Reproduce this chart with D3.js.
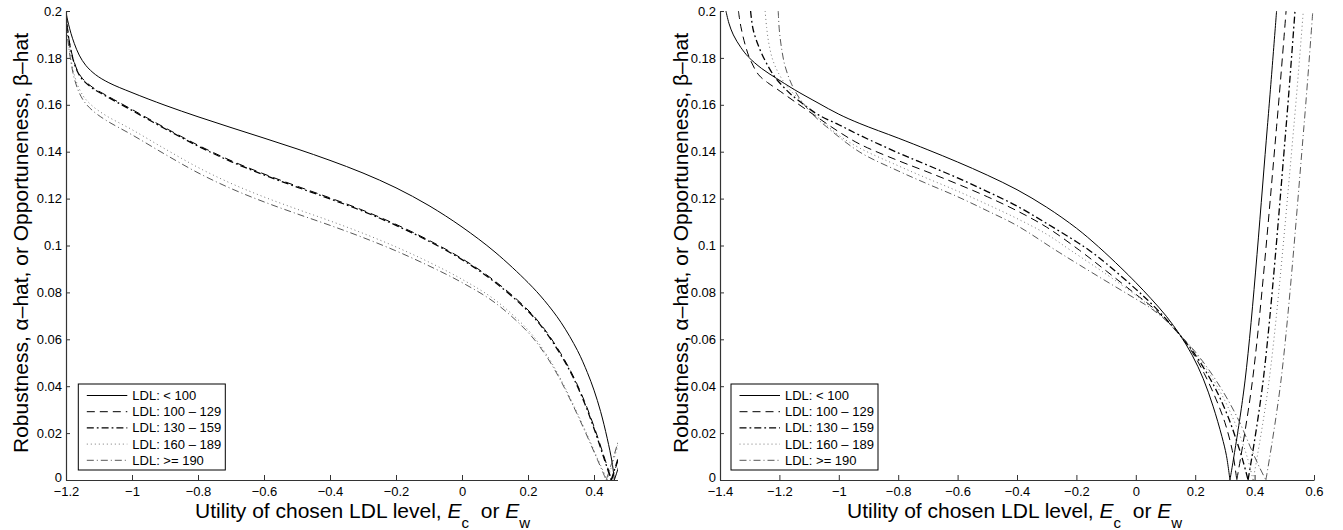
<!DOCTYPE html>
<html>
<head>
<meta charset="utf-8">
<script src="https://cdn.jsdelivr.net/npm/d3@7"></script>
<style>
  body { margin: 0; background: #fff; }
  svg { display: block; }
  text { font-family: "Liberation Sans", Arial, Helvetica, sans-serif; fill: #000; }
</style>
</head>
<body>
<svg id="chart" width="1343" height="530"></svg>
<script>
// ---- labels and ticks ----
const seriesNames = ["LDL: < 100", "LDL: 100 \u2013 129", "LDL: 130 \u2013 159", "LDL: 160 \u2013 189", "LDL: >= 190"];
const yTicks = [0, 0.02, 0.04, 0.06, 0.08, 0.1, 0.12, 0.14, 0.16, 0.18, 0.2];
const leftXTicks = [-1.2, -1, -0.8, -0.6, -0.4, -0.2, 0, 0.2, 0.4];
const rightXTicks = [-1.4, -1.2, -1, -0.8, -0.6, -0.4, -0.2, 0, 0.2, 0.4, 0.6];
const yLabel = "Robustness, \u03b1\u2013hat, or Opportuneness, \u03b2\u2013hat";

// ---- left figure: robustness curves [utility, alpha-hat] ----
const leftLt100 = [[-1.2,0.2],[-1.197,0.1972],[-1.192,0.1942],[-1.185,0.1905],[-1.175,0.1862],[-1.16,0.1812],[-1.14,0.1768],[-1.11,0.1728],[-1.07,0.1694],[-1.0,0.1652],[-0.9,0.1598],[-0.8,0.1549],[-0.7,0.1503],[-0.6,0.1458],[-0.5,0.1412],[-0.4,0.1363],[-0.3,0.1309],[-0.2,0.1246],[-0.1,0.117],[0,0.1079],[0.1,0.0972],[0.2,0.0842],[0.25,0.0765],[0.3,0.0672],[0.35,0.0552],[0.38,0.0458],[0.4,0.0383],[0.42,0.0292],[0.44,0.0178],[0.455,0.0074],[0.4616,0]];
const left100to129 = [[-1.2,0.2],[-1.195,0.192],[-1.188,0.1855],[-1.178,0.1795],[-1.165,0.1745],[-1.15,0.1712],[-1.12,0.1675],[-1.08,0.1642],[-1.0,0.158],[-0.9,0.1502],[-0.8,0.1428],[-0.7,0.1362],[-0.6,0.1305],[-0.5,0.1253],[-0.4,0.1203],[-0.3,0.115],[-0.2,0.109],[-0.1,0.1022],[0,0.0944],[0.1,0.0848],[0.2,0.0725],[0.25,0.0643],[0.3,0.0538],[0.336,0.0446],[0.37,0.034],[0.4,0.0228],[0.43,0.0102],[0.4535,0]];
const left130to159 = [[-1.2,0.2],[-1.195,0.1917],[-1.188,0.1851],[-1.178,0.1791],[-1.165,0.1741],[-1.15,0.1708],[-1.12,0.1671],[-1.08,0.1638],[-1.0,0.1576],[-0.9,0.1498],[-0.8,0.1424],[-0.7,0.1358],[-0.6,0.1301],[-0.5,0.1249],[-0.4,0.1199],[-0.3,0.1146],[-0.2,0.1086],[-0.1,0.1018],[0,0.094],[0.1,0.0843],[0.2,0.072],[0.25,0.0638],[0.3,0.0532],[0.336,0.044],[0.37,0.0333],[0.4,0.022],[0.43,0.0094],[0.452,0]];
const left160to189 = [[-1.2,0.2],[-1.197,0.1925],[-1.192,0.1862],[-1.185,0.1795],[-1.175,0.1728],[-1.162,0.1675],[-1.145,0.1632],[-1.12,0.1595],[-1.08,0.1555],[-1.0,0.1494],[-0.9,0.1412],[-0.8,0.1333],[-0.7,0.1265],[-0.6,0.1207],[-0.5,0.1155],[-0.4,0.1105],[-0.3,0.1052],[-0.2,0.0994],[-0.1,0.0929],[0,0.0856],[0.1,0.0768],[0.2,0.064],[0.25,0.0548],[0.291,0.0452],[0.33,0.0343],[0.37,0.0222],[0.41,0.0094],[0.44,0]];
const leftGe190 = [[-1.2,0.2],[-1.197,0.1915],[-1.192,0.185],[-1.185,0.1782],[-1.175,0.1713],[-1.162,0.1658],[-1.145,0.1614],[-1.12,0.1576],[-1.08,0.1535],[-1.0,0.1472],[-0.9,0.1389],[-0.8,0.131],[-0.7,0.1243],[-0.6,0.1186],[-0.5,0.1135],[-0.4,0.1086],[-0.3,0.1034],[-0.2,0.0977],[-0.1,0.0913],[0,0.0842],[0.1,0.0756],[0.2,0.063],[0.25,0.054],[0.291,0.0445],[0.33,0.0337],[0.37,0.0216],[0.41,0.0088],[0.437,0]];

// ---- left figure: opportuneness branches [utility, beta-hat] ----
const leftOppLt100 = [[0.4616,0],[0.5216,0.03],[0.6016,0.12],[0.6416,0.2]];
const leftOpp100to129 = [[0.4535,0],[0.5135,0.03],[0.5935,0.12],[0.6335,0.2]];
const leftOpp130to159 = [[0.452,0],[0.512,0.03],[0.592,0.12],[0.632,0.2]];
const leftOpp160to189 = [[0.44,0],[0.5,0.03],[0.58,0.12],[0.62,0.2]];
const leftOppGe190 = [[0.437,0],[0.497,0.03],[0.577,0.12],[0.617,0.2]];

// ---- right figure: robustness curves ----
const rightLt100 = [[-1.38,0.2],[-1.37,0.1948],[-1.355,0.1898],[-1.33,0.1845],[-1.305,0.1805],[-1.26,0.1755],[-1.209,0.1712],[-1.15,0.1665],[-1.07,0.1608],[-1.0,0.156],[-0.929,0.152],[-0.8,0.1458],[-0.7,0.1408],[-0.6,0.1356],[-0.5,0.13],[-0.4,0.1238],[-0.3,0.1163],[-0.2,0.1074],[-0.126,0.0995],[-0.05,0.0905],[0,0.0842],[0.05,0.0775],[0.103,0.0698],[0.149,0.0618],[0.19,0.0532],[0.227,0.0432],[0.26,0.0315],[0.29,0.0185],[0.305,0.0105],[0.317,0]];
const right100to129 = [[-1.338,0.2],[-1.33,0.1935],[-1.315,0.1855],[-1.299,0.1795],[-1.27,0.1728],[-1.24,0.1695],[-1.209,0.1668],[-1.15,0.1615],[-1.07,0.1545],[-1.0,0.1485],[-0.929,0.1432],[-0.8,0.1362],[-0.7,0.1313],[-0.6,0.1262],[-0.5,0.1208],[-0.4,0.1148],[-0.3,0.1078],[-0.19,0.098],[-0.1,0.0892],[0,0.0792],[0.05,0.0743],[0.1,0.0685],[0.149,0.0618],[0.19,0.0545],[0.23,0.0455],[0.27,0.0345],[0.3,0.0245],[0.325,0.0125],[0.34,0]];
const right130to159 = [[-1.297,0.2],[-1.288,0.1919],[-1.265,0.1834],[-1.237,0.1762],[-1.215,0.1718],[-1.187,0.1677],[-1.159,0.1642],[-1.12,0.1603],[-1.07,0.1558],[-1.0,0.1515],[-0.929,0.147],[-0.8,0.1395],[-0.7,0.1342],[-0.6,0.1288],[-0.5,0.123],[-0.4,0.1168],[-0.3,0.1094],[-0.2,0.1016],[-0.155,0.0978],[-0.1,0.0924],[0,0.0814],[0.05,0.0755],[0.1,0.0689],[0.149,0.0618],[0.19,0.0552],[0.23,0.0475],[0.27,0.0385],[0.31,0.0272],[0.34,0.0165],[0.36,0.0085],[0.378,0]];
const right160to189 = [[-1.248,0.2],[-1.243,0.193],[-1.235,0.1858],[-1.222,0.179],[-1.2,0.1728],[-1.17,0.1672],[-1.12,0.1608],[-1.06,0.1535],[-1.0,0.147],[-0.929,0.1415],[-0.8,0.134],[-0.7,0.1285],[-0.6,0.1232],[-0.5,0.1175],[-0.4,0.1115],[-0.3,0.1048],[-0.22,0.098],[-0.1,0.0878],[0,0.0788],[0.05,0.0738],[0.1,0.0683],[0.149,0.0618],[0.19,0.0558],[0.23,0.0488],[0.27,0.0408],[0.31,0.0312],[0.35,0.0192],[0.375,0.0098],[0.395,0]];
const rightGe190 = [[-1.204,0.2],[-1.2,0.1915],[-1.192,0.1835],[-1.181,0.1765],[-1.159,0.1688],[-1.131,0.1625],[-1.09,0.1562],[-1.04,0.1505],[-0.929,0.1398],[-0.8,0.1318],[-0.7,0.1262],[-0.6,0.1208],[-0.5,0.1148],[-0.4,0.1085],[-0.27,0.098],[-0.2,0.0925],[-0.1,0.0848],[0,0.0772],[0.05,0.0733],[0.1,0.0682],[0.149,0.0618],[0.19,0.0562],[0.23,0.0498],[0.27,0.0425],[0.31,0.0342],[0.35,0.0245],[0.39,0.0128],[0.415,0.0058],[0.438,0]];

// ---- right figure: opportuneness branches ----
const rightOppLt100 = [[0.317,0],[0.368,0.0426],[0.443,0.1506],[0.474,0.2]];
const rightOpp100to129 = [[0.34,0],[0.393,0.0426],[0.474,0.1506],[0.506,0.2]];
const rightOpp130to159 = [[0.378,0],[0.429,0.0426],[0.506,0.1506],[0.536,0.2]];
const rightOpp160to189 = [[0.395,0],[0.449,0.0426],[0.532,0.1506],[0.564,0.2]];
const rightOppGe190 = [[0.438,0],[0.489,0.0426],[0.566,0.1506],[0.596,0.2]];

// ---- line styles, in series order ----
const lineStyles = [
  { color: "#000", width: 1.0, dash: null },
  { color: "#000", width: 1.0, dash: "8,5" },
  { color: "#000", width: 1.3, dash: "7,3,1.8,3" },
  { color: "#777", width: 1.0, dash: "1,3" },
  { color: "#444", width: 0.9, dash: "7,3,1,3" }
];

const svg = d3.select("#chart");
svg.append("rect").attr("width", 1343).attr("height", 530).attr("fill", "#fff");

const fmt = v => String(+v.toFixed(2)).replace("-", "\u2212");

function drawFigure(cfg) {
  const x = d3.scaleLinear().domain(cfg.xDomain).range(cfg.xRange);
  const y = d3.scaleLinear().domain([0, 0.2]).range([480, 11]);
  const g = svg.append("g");

  // figure background (the right figure sits over the left one's margin)
  g.append("rect").attr("x", cfg.bg[0]).attr("y", 0)
    .attr("width", cfg.bg[1] - cfg.bg[0]).attr("height", 530).attr("fill", "#fff");

  const clipId = "clip-" + cfg.id;
  g.append("clipPath").attr("id", clipId).append("rect")
    .attr("x", cfg.xRange[0]).attr("y", 10)
    .attr("width", cfg.xRange[1] - cfg.xRange[0]).attr("height", 471);

  const line = d3.line().x(d => x(d[0])).y(d => y(d[1])).curve(d3.curveCatmullRom.alpha(0.5));
  const curves = g.append("g").attr("clip-path", `url(#${clipId})`);
  cfg.robust.forEach((data, i) => {
    const st = lineStyles[i];
    [data, cfg.opp[i]].forEach(seg => {
      curves.append("path").datum(seg)
        .attr("d", line)
        .attr("fill", "none")
        .attr("stroke", st.color)
        .attr("stroke-width", st.width)
        .attr("stroke-dasharray", st.dash);
    });
  });

  // axes with inward ticks
  const xAxis = g.append("g").attr("transform", "translate(0,480)")
    .call(d3.axisBottom(x).tickValues(cfg.xTicks).tickFormat(fmt).tickSizeInner(-5).tickSizeOuter(0).tickPadding(7));
  const yAxis = g.append("g").attr("transform", `translate(${cfg.xRange[0]},0)`)
    .call(d3.axisLeft(y).tickValues(yTicks).tickFormat(fmt).tickSizeInner(-4).tickSizeOuter(0).tickPadding(4));
  [xAxis, yAxis].forEach(a => {
    a.select(".domain").attr("stroke", "#333").attr("stroke-width", 1.2);
    a.selectAll(".tick line").attr("stroke", "#333");
    a.selectAll(".tick text").attr("font-size", 13).attr("fill", "#000")
      .attr("font-family", "'Liberation Sans', Arial, Helvetica, sans-serif");
  });
  yAxis.selectAll(".tick text").filter(d => d === 0).attr("dy", "0.12em");

  // y label
  g.append("text")
    .attr("transform", `translate(${cfg.yLabelX},243) rotate(-90)`)
    .attr("text-anchor", "middle")
    .attr("font-size", 21)
    .text(yLabel);

  // x label with subscripts
  const xl = g.append("text").attr("x", cfg.xLabelX).attr("y", 518).attr("font-size", 21);
  xl.append("tspan").text("Utility of chosen LDL level, ");
  xl.append("tspan").attr("font-style", "italic").text("E");
  xl.append("tspan").attr("font-size", 15).attr("dy", 10).text("c");
  xl.append("tspan").attr("dy", -10).text("\u00a0 or ");
  xl.append("tspan").attr("font-style", "italic").text("E");
  xl.append("tspan").attr("font-size", 15).attr("dy", 10).text("w");

  // legend
  const lg = g.append("g");
  const lx = cfg.legendX, top = 384, rowH = 16.2, firstRow = 395.5;
  lg.append("rect").attr("x", lx).attr("y", top).attr("width", 147).attr("height", 470 - top)
    .attr("fill", "#fff").attr("stroke", "#000").attr("stroke-width", 1);
  seriesNames.forEach((name, i) => {
    const ry = firstRow + i * rowH;
    const st = lineStyles[i];
    lg.append("line").attr("x1", lx + 8.5).attr("x2", lx + 49).attr("y1", ry).attr("y2", ry)
      .attr("stroke", st.color).attr("stroke-width", st.width).attr("stroke-dasharray", st.dash);
    lg.append("text").attr("x", lx + 54).attr("y", ry + 4.5).attr("font-size", 13).text(name);
  });
}

drawFigure({
  id: "left", bg: [0, 618], xDomain: [-1.2, 0.6], xRange: [66, 660], xTicks: leftXTicks,
  robust: [leftLt100, left100to129, left130to159, left160to189, leftGe190],
  opp: [leftOppLt100, leftOpp100to129, leftOpp130to159, leftOpp160to189, leftOppGe190],
  yLabelX: 28, xLabelX: 195, legendX: 78.3
});
drawFigure({
  id: "right", bg: [618, 1343], xDomain: [-1.4, 0.6], xRange: [720, 1314], xTicks: rightXTicks,
  robust: [rightLt100, right100to129, right130to159, right160to189, rightGe190],
  opp: [rightOppLt100, rightOpp100to129, rightOpp130to159, rightOpp160to189, rightOppGe190],
  yLabelX: 688, xLabelX: 847, legendX: 731
});
</script>
</body>
</html>
